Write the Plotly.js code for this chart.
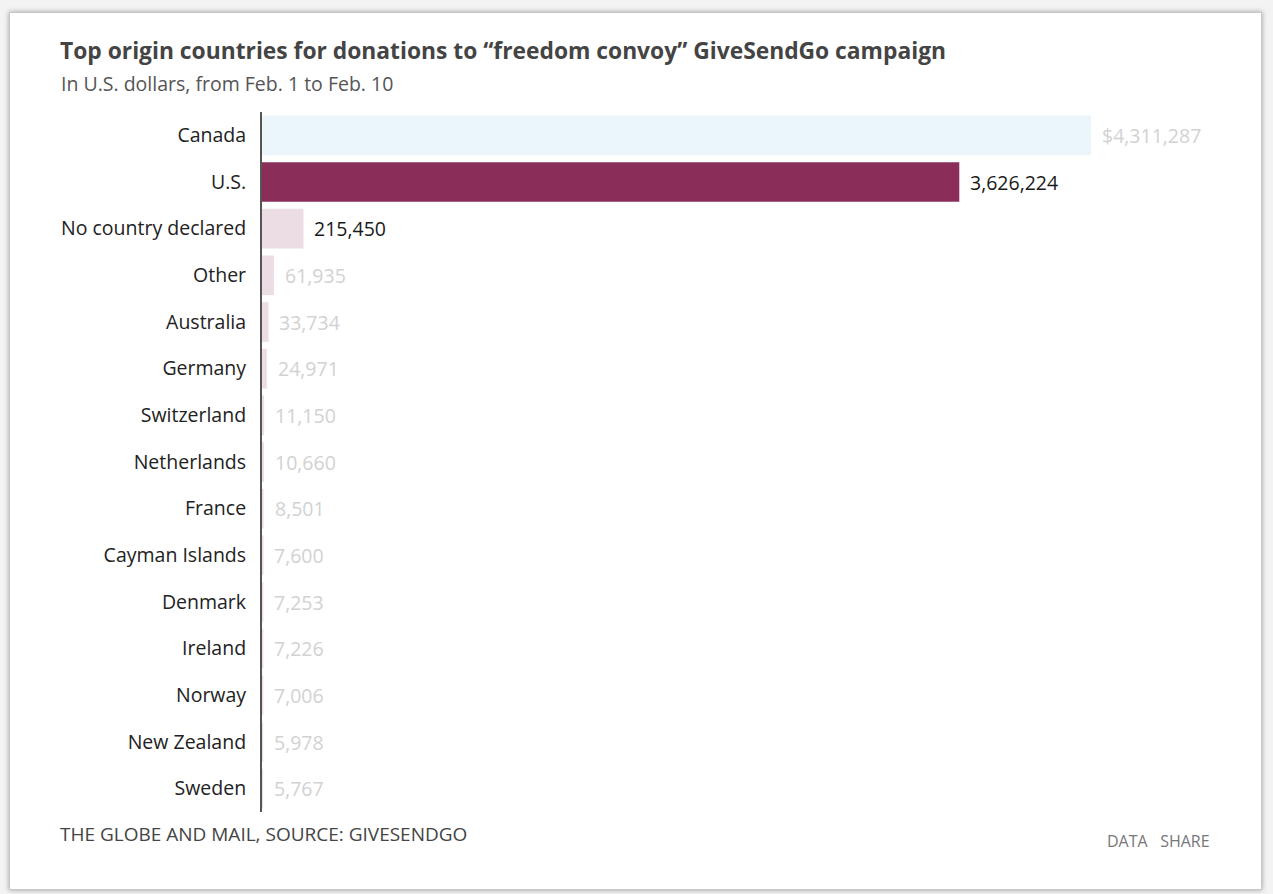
<!DOCTYPE html>
<html>
<head>
<meta charset="utf-8">
<script src="https://cdn.plot.ly/plotly-3.0.1.min.js"></script>
<style>
  html, body { margin: 0; padding: 0; background: #f3f3f3; width: 1273px; height: 894px; overflow: hidden; }
  #frame { position: absolute; left: 9px; top: 12px; width: 1251px; height: 876px; background: #ffffff;
           border: 1px solid #c8c8c8; box-shadow: 0 0 5px rgba(0,0,0,0.35); }
  #chart { position: absolute; left: 0; top: 0; width: 1273px; height: 894px; }
</style>
</head>
<body>
<div id="frame"></div>
<div id="chart"></div>
<script>
const countries = ["Canada", "U.S.", "No country declared", "Other", "Australia", "Germany", "Switzerland",
  "Netherlands", "France", "Cayman Islands", "Denmark", "Ireland", "Norway", "New Zealand", "Sweden"];
const donations = [4311287, 3626224, 215450, 61935, 33734, 24971, 11150, 10660, 8501, 7600, 7253, 7226, 7006, 5978, 5767];
const emphasized = ["U.S.", "No country declared"];

const titleText = "Top origin countries for donations to “freedom convoy” GiveSendGo campaign";
const subtitleText = "In U.S. dollars, from Feb. 1 to Feb. 10";
const sourceText = "THE GLOBE AND MAIL, SOURCE: GIVESENDGO";

const FONT = "'Open Sans', 'Noto Sans', sans-serif";
const colorFor = c => c === "Canada" ? "#eaf6f9" : (c === "U.S." ? "#8a2d58" : "#ecdde4");
const fmt = (v, i) => (i === 0 ? "$" : "") + v.toLocaleString("en-US");

const trace = {
  type: "bar",
  orientation: "h",
  y: countries,
  x: donations,
  width: 0.85,
  marker: { color: countries.map(colorFor) },
  hoverinfo: "skip"
};

const L = 262, R = 43, W = 1273 - L - R;
const px = p => (p - L) / W;

const valueAnns = countries.map((c, i) => ({
  x: donations[i], y: c, xref: "x", yref: "y",
  text: fmt(donations[i], i), showarrow: false, xanchor: "left", xshift: 9, yshift: 0,
  font: { family: FONT, size: emphasized.includes(c) ? 19.5 : 19.5, color: emphasized.includes(c) ? "#1a1a1a" : "#d2d2d2" }
}));

const layout = {
  width: 1273, height: 894,
  paper_bgcolor: "rgba(0,0,0,0)", plot_bgcolor: "rgba(0,0,0,0)",
  margin: { l: L, r: R, t: 112, b: 82 },
  showlegend: false,
  bargap: 0.15,
  title: {
    text: "<b>" + titleText + "</b>",
    xref: "container", yref: "container", x: 60 / 1273, xanchor: "left",
    y: 1 - 51 / 894, yanchor: "middle",
    font: { family: FONT, size: 22.8, color: "#444444" }
  },
  xaxis: { range: [0, 5034000], visible: false, fixedrange: true },
  yaxis: {
    type: "category", autorange: "reversed",
    showline: true, linecolor: "#555555", linewidth: 2,
    showgrid: false, zeroline: false, ticks: "", ticklabelstandoff: 10,
    tickfont: { family: FONT, size: 19.5, color: "#222222" }
  },
  annotations: valueAnns.concat([
    { xref: "paper", yref: "paper", x: px(59), y: 1 + (112 - 83) / 700, xanchor: "left", yanchor: "middle",
      text: subtitleText, showarrow: false, font: { family: FONT, size: 19.5, color: "#555555" } },
    { xref: "paper", yref: "paper", x: px(58), y: -(834 - 812) / 700, xanchor: "left", yanchor: "middle",
      text: sourceText, showarrow: false, font: { family: FONT, size: 19, color: "#444444" } },
    { xref: "paper", yref: "paper", x: px(1212), y: -(841 - 812) / 700, xanchor: "right", yanchor: "middle",
      text: "DATA&nbsp;&nbsp;&nbsp;SHARE", showarrow: false, font: { family: FONT, size: 16, color: "#777777" } }
  ])
};

Plotly.newPlot("chart", [trace], layout, { displayModeBar: false, staticPlot: true });
</script>
</body>
</html>
